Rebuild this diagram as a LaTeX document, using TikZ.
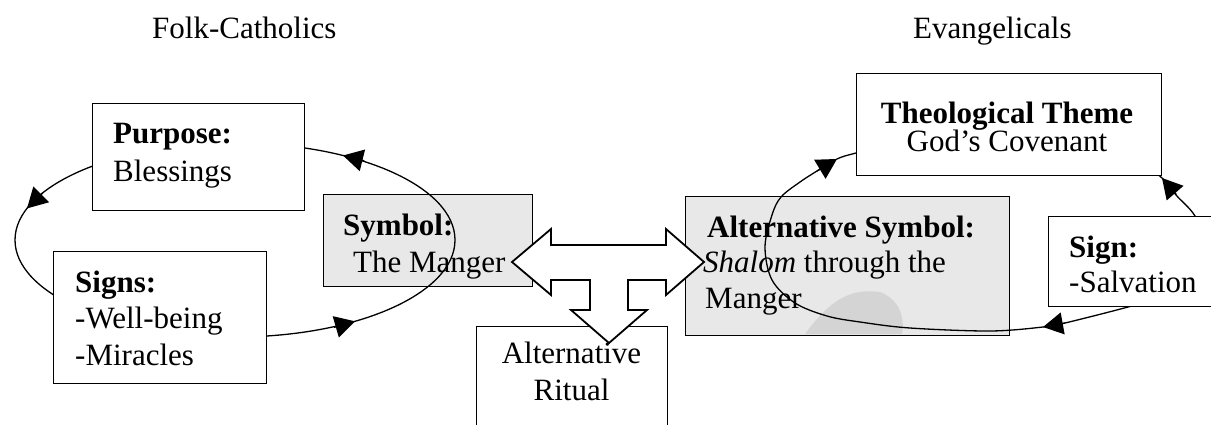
\documentclass[tikz,border=0pt]{standalone}
\usepackage{fontspec}
\setmainfont{Liberation Serif}
\usetikzlibrary{arrows.meta}
\begin{document}
\begin{tikzpicture}[x=1pt,y=-1pt,
  frame/.style={draw, line width=1.3pt, fill=white, inner sep=0pt, anchor=north west},
  shaded/.style={frame, fill=black!9, line width=1.1pt},
  loopline/.style={line width=1.3pt},
  headmark/.style={line width=1.3pt, -{Triangle[length=20pt,width=22pt]}},
  txt/.style={anchor=base west, inner sep=0pt, font=\fontsize{31}{36}\selectfont},
  ctxt/.style={txt, anchor=base},
  blockarrow/.style={draw, line width=1.8pt, fill=white, line join=miter},
]
\useasboundingbox (0,0) rectangle (1211,424);
\clip (0,0) rectangle (1211,424);

% symbol boxes (stippled)
\node[shaded, minimum width=209pt, minimum height=92pt] (symbol) at (323,194) {};
\node[shaded, minimum width=324pt, minimum height=139pt] (altsym) at (685,196) {};
\begin{scope}
  \clip (altsym.north west) rectangle (altsym.south east);
  \fill[black!17] (805,334) .. controls (830,300) and (850,288) .. (880,292)
    .. controls (900,300) and (905,318) .. (902,334) -- cycle;
\end{scope}

% Folk-Catholic cycle
\coordinate (lc) at (235,240);
\draw[loopline] (lc) ellipse [x radius=220pt, y radius=97pt];
\coordinate (la1) at (364.3,160.8); \coordinate (la2) at (343,155.5);
\coordinate (lb1) at (42.6,193);    \coordinate (lb2) at (27,208.4);
\coordinate (lc1) at (333.9,327.4); \coordinate (lc2) at (355,321.3);
\draw[headmark] (la1) -- (la2);
\draw[headmark] (lb1) -- (lb2);
\draw[headmark] (lc1) -- (lc2);

% Evangelical cycle
\draw[loopline] plot[smooth cycle, tension=0.55] coordinates {
  (765,247) (772,215) (781,197) (800,182) (817,171) (837,159) (856,153)
  (920,137) (1000,130) (1080,137) (1130,155) (1162,178) (1176,195)
  (1195,216) (1205,245) (1190,280) (1160,297) (1128,307) (1065,323)
  (1043,327) (990,331) (910,328) (860,322) (827,316) (795,303) (772,280)};
\coordinate (ra1) at (817,171);  \coordinate (ra2) at (837,159);
\coordinate (rb1) at (1176.4,194.6); \coordinate (rb2) at (1162,178);
\coordinate (rc1) at (1065,323); \coordinate (rc2) at (1043,327);
\draw[headmark] (ra1) -- (ra2);
\draw[headmark] (rb1) -- (rb2);
\draw[headmark] (rc1) -- (rc2);

% plain boxes
\node[frame, minimum width=212pt, minimum height=107pt] (purpose) at (92,103) {};
\node[frame, minimum width=213pt, minimum height=132pt] (signs) at (53,251) {};
\node[frame, minimum width=191pt, minimum height=120pt] (ritual) at (476,326) {};
\node[frame, minimum width=305pt, minimum height=102pt] (theme) at (856,73) {};
\node[frame, minimum width=180pt, minimum height=90pt] (sign) at (1048,216) {};

% three-way block arrow
\draw[blockarrow] (512,262) -- (551,229) -- (551,245) -- (666,245) -- (666,229)
  -- (704,262) -- (666,295) -- (666,280) -- (628,280) -- (628,310) -- (647,310)
  -- (609,343) -- (571,310) -- (590,310) -- (590,280) -- (551,280) -- (551,295)
  -- cycle;

% headings
\node[txt] (hfolk) at (152,38) {Folk-Catholics};
\node[txt] (hevan) at (913,38) {Evangelicals};

% box texts
\node[txt] (tp1) at (113,143) {\textbf{Purpose:}};
\node[txt] (tp2) at (113,181) {Blessings};
\node[txt] (ts1) at (75,292) {\textbf{Signs:}};
\node[txt] (ts2) at (75,328) {-Well-being};
\node[txt] (ts3) at (75,365) {-Miracles};
\node[txt] (ty1) at (343,235) {\textbf{Symbol:}};
\node[txt] (ty2) at (353,272) {The Manger};
\node[ctxt] (tr1) at (571.5,363) {Alternative};
\node[ctxt] (tr2) at (571.5,400) {Ritual};
\node[txt] (ta1) at (707,237) {\textbf{Alternative Symbol:}};
\node[txt] (ta2) at (703,272) {\textit{Shalom} through the};
\node[txt] (ta3) at (705,308) {Manger};
\node[ctxt] (tt1) at (1007,123) {\textbf{Theological Theme}};
\node[ctxt] (tt2) at (1007,151) {God’s Covenant};
\node[txt] (tg1) at (1069,257) {\textbf{Sign:}};
\node[txt] (tg2) at (1069,292) {-Salvation};
\end{tikzpicture}
\end{document}
